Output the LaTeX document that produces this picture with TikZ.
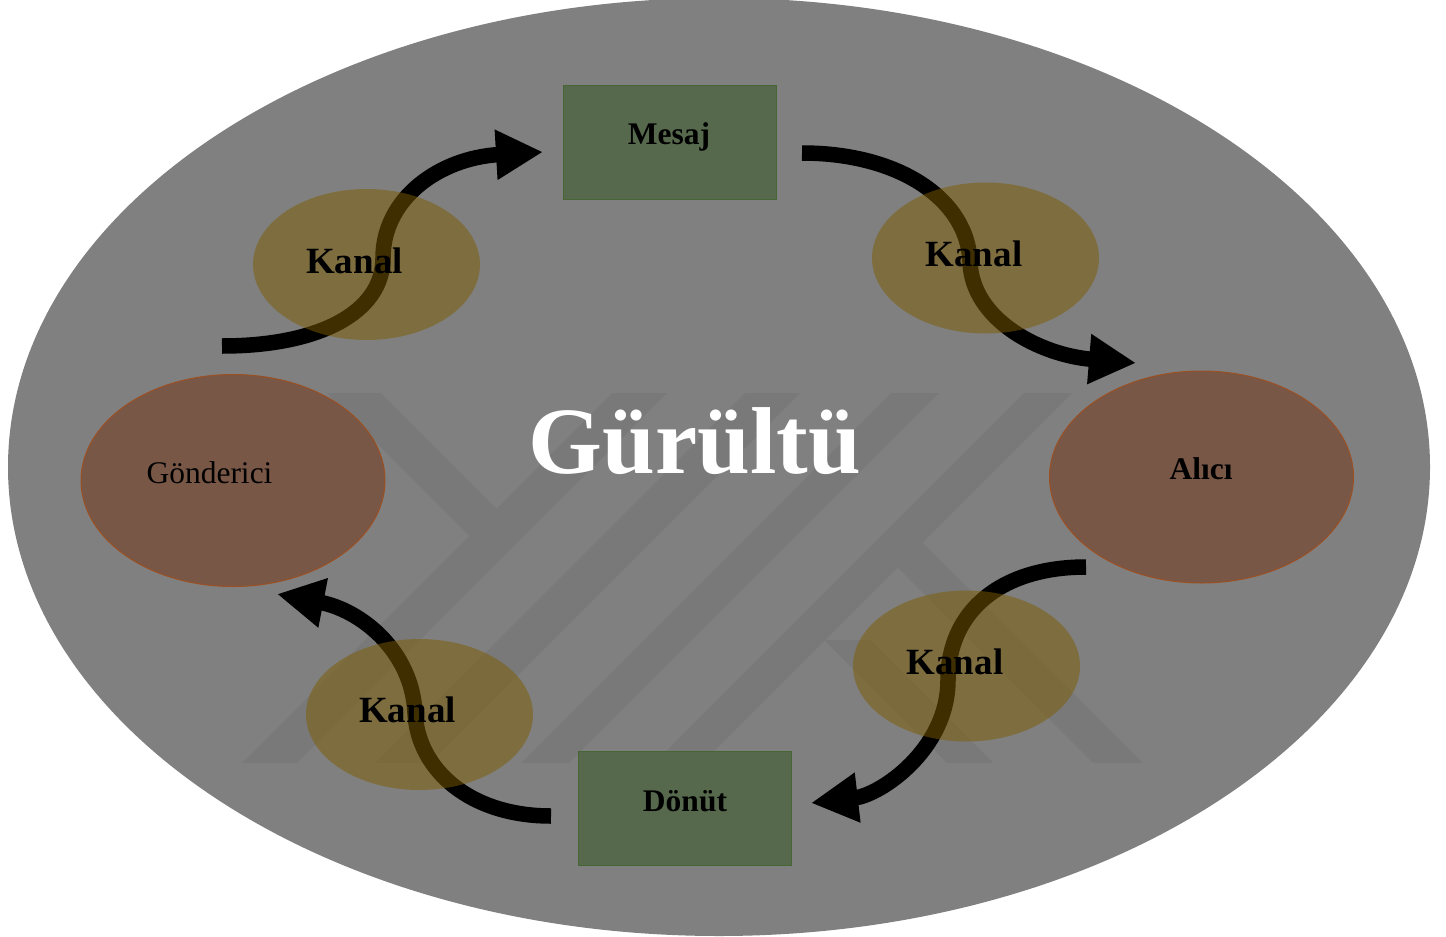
\documentclass[tikz,border=0pt]{standalone}
\usepackage{fontspec}
\setmainfont{Liberation Serif}
\usetikzlibrary{shapes.geometric,arrows.meta}
\definecolor{noisegray}{RGB}{128,128,128}
\definecolor{bandgray}{RGB}{121,121,121}
\definecolor{boxfill}{RGB}{86,105,77}
\definecolor{boxline}{RGB}{72,102,52}
\definecolor{ellfill}{RGB}{121,87,71}
\definecolor{ellline}{RGB}{155,80,35}
\definecolor{kanalfill}{RGB}{126,92,0}
\tikzset{
  bigell/.style={ellipse, fill=noisegray, minimum width=1422pt, minimum height=938pt, inner sep=0pt},
  msgbox/.style={rectangle, fill=boxfill, draw=boxline, line width=1pt, minimum width=213pt, minimum height=114pt, inner sep=0pt},
  party/.style={ellipse, fill=ellfill, draw=ellline, line width=1pt, minimum width=304pt, minimum height=212pt, inner sep=0pt},
  kanal/.style={ellipse, fill=kanalfill, fill opacity=0.5, minimum width=227pt, minimum height=151pt, inner sep=0pt},
  lbl/.style={anchor=base, inner sep=0pt, text=black, font=\fontsize{31.5}{36}\selectfont},
  blbl/.style={lbl, font=\bfseries\fontsize{31.5}{36}\selectfont},
  klbl/.style={lbl, font=\bfseries\fontsize{37}{42}\selectfont},
  flow/.style={line width=15.5pt, line cap=butt, -{Triangle[length=47pt,width=47pt]}},
  band/.style={fill=bandgray, draw=none}
}
\begin{document}
\begin{tikzpicture}[x=1pt, y=-1pt]
\useasboundingbox (0,0) rectangle (1446,937);
\clip (0,0) rectangle (1446,937);
\fill[white] (0,0) rectangle (1446,937);

% noise field
\node[bigell] (noise) at (719,467) {};

% faint watermark bands
\fill[band] (242,763) -- (297,763) -- (667,393) -- (612,393) -- cycle;
\fill[band] (375,763) -- (430,763) -- (800,393) -- (745,393) -- cycle;
\fill[band] (521,763) -- (569,763) -- (939,393) -- (891,393) -- cycle;
\fill[band] (654,763) -- (702,763) -- (1072,393) -- (1024,393) -- cycle;
\fill[band] (327,393) -- (381,393) -- (496.5,508.5) -- (469.5,535.5) -- cycle;
\fill[band] (897.5,567.5) -- (922.5,542.5) -- (1143,763) -- (1093,763) -- cycle;
\fill[band] (824,640) -- (870,640) -- (993,763) -- (947,763) -- cycle;

% main nodes
\node[msgbox] (mesaj) at (669.5,142) {};
\node[msgbox] (donut) at (684.5,808) {};
\node[party] (gonderici) at (233,480.5) {};
\node[party] (alici) at (1201.5,477) {};

% connector coordinates
\coordinate (a1s) at (222,346);
\coordinate (a1m) at (383,258);
\coordinate (a1t) at (543,152);
\coordinate (a2s) at (802,153);
\coordinate (a2m) at (970,262);
\coordinate (a2t) at (1136,363);
\coordinate (a3s) at (1086,567);
\coordinate (a3m) at (948,680);
\coordinate (a3t) at (811,803);
\coordinate (a4s) at (551,816);
\coordinate (a4m) at (415,713);
\coordinate (a4t) at (277,594);

% arrows
\draw[flow] (a1s) .. controls (320,346) and (383,312) .. (a1m) .. controls (383,198) and (440,158) .. (a1t);
\draw[flow] (a2s) .. controls (900,153) and (968,200) .. (a2m) .. controls (972,320) and (1040,355) .. (a2t);
\draw[flow] (a3s) .. controls (1000,567) and (948,612) .. (a3m) .. controls (948,750) and (880,795) .. (a3t);
\draw[flow] (a4s) .. controls (470,816) and (418,770) .. (a4m) .. controls (412,650) and (360,610) .. (a4t);

% channels
\node[kanal] (k1) at (366.5,264.5) {};
\node[kanal] (k2) at (985.5,258) {};
\node[kanal] (k3) at (966.5,666) {};
\node[kanal] (k4) at (419.5,714.5) {};

% labels
\node[blbl] (mesajtxt) at (669,144) {Mesaj};
\node[blbl] (donuttxt) at (685,811) {Dönüt};
\node[lbl] (gondericitxt) at (209.5,483) {Gönderici};
\node[blbl] (alicitxt) at (1201,479) {Alıcı};
\node[klbl] (k1txt) at (354.5,273) {Kanal};
\node[klbl] (k2txt) at (974,266) {Kanal};
\node[klbl] (k3txt) at (955,674) {Kanal};
\node[klbl] (k4txt) at (407.5,722) {Kanal};
\node[anchor=base, inner sep=0pt, text=white, font=\bfseries\fontsize{95}{100}\selectfont] (gurultu) at (695,473) {Gürültü};
\end{tikzpicture}
\end{document}
